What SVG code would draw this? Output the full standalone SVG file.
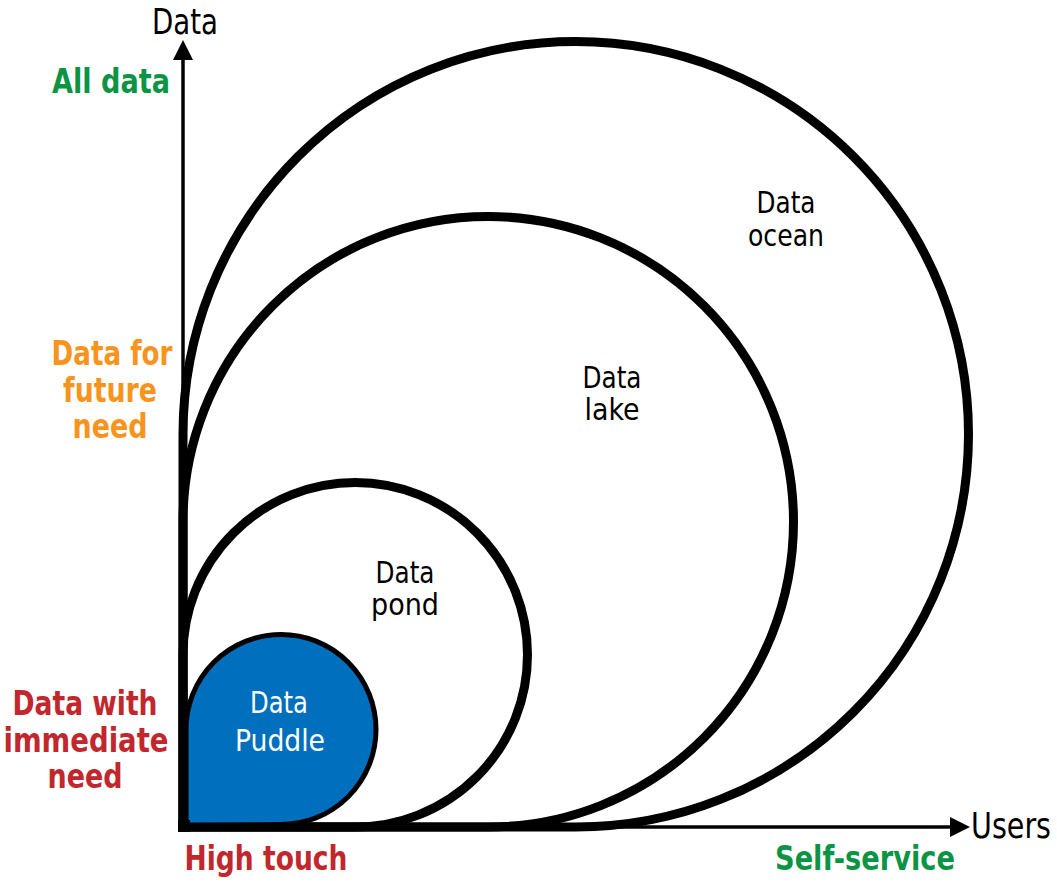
<svg xmlns="http://www.w3.org/2000/svg" width="1057" height="882" viewBox="0 0 1057 882">
<style>
  text { font-family: "DejaVu Sans Condensed", "DejaVu Sans", "Liberation Sans", sans-serif; }
  .ax { font-size: 35px; fill: #000; }
  .lbl { font-size: 30px; fill: #000; text-anchor: middle; }
  .wht { fill: #fff; }
  .side { font-size: 34px; font-weight: bold; text-anchor: middle; }
  .green { fill: #0b9444; }
  .orange { fill: #f7941d; }
  .red { fill: #c1272d; }
  .ring { fill: none; stroke: #000; stroke-width: 9; stroke-linejoin: miter; }
  .axis { stroke: #000; stroke-width: 3.5; fill: none; }
</style>
<defs>
  <marker id="arr" viewBox="0 0 20 20" refX="0" refY="10" markerWidth="20" markerHeight="20" markerUnits="userSpaceOnUse" orient="auto">
    <path d="M0,0 L20,10 L0,20 Z" fill="#000"/>
  </marker>
</defs>
<rect width="1057" height="882" fill="#fff"/>
<g id="ocean">
  <path class="ring" d="M183,827 L183,434.25 A392.75,392.75 0 1 1 575.75,827 Z"/>
  <text class="lbl" x="786" y="213" textLength="59" lengthAdjust="spacingAndGlyphs">Data</text>
  <text class="lbl" x="786" y="246" textLength="76" lengthAdjust="spacingAndGlyphs">ocean</text>
</g>
<g id="lake">
  <path class="ring" d="M183,827 L183,521.75 A305.25,305.25 0 1 1 488.25,827 Z"/>
  <text class="lbl" x="612" y="388" textLength="59" lengthAdjust="spacingAndGlyphs">Data</text>
  <text class="lbl" x="612" y="420" textLength="55" lengthAdjust="spacingAndGlyphs">lake</text>
</g>
<g id="pond">
  <path class="ring" d="M183,827 L183,654.75 A172.25,172.25 0 1 1 355.25,827 Z"/>
  <text class="lbl" x="405" y="583" textLength="59" lengthAdjust="spacingAndGlyphs">Data</text>
  <text class="lbl" x="405" y="615" textLength="68" lengthAdjust="spacingAndGlyphs">pond</text>
</g>
<g id="puddle">
  <path d="M186,825 L186,729.5 A95,95 0 1 1 281,824.5 Z" fill="#006fbd" stroke="#000" stroke-width="5"/>
  <text class="lbl wht" x="279" y="713" textLength="58" lengthAdjust="spacingAndGlyphs">Data</text>
  <text class="lbl wht" x="280" y="751" textLength="90" lengthAdjust="spacingAndGlyphs">Puddle</text>
</g>
<g id="connectors">
  <line class="axis" x1="183" y1="830" x2="183" y2="60" marker-end="url(#arr)"/>
  <line class="axis" x1="181" y1="827" x2="950" y2="827" marker-end="url(#arr)"/>
  <rect x="178" y="820" width="12" height="12" fill="#000"/>
</g>
<g id="axis-labels">
  <text class="ax" x="152" y="34" textLength="66" lengthAdjust="spacingAndGlyphs">Data</text>
  <text class="ax" x="971" y="838" textLength="80" lengthAdjust="spacingAndGlyphs">Users</text>
  <text class="side green" x="111" y="93" textLength="118" lengthAdjust="spacingAndGlyphs">All data</text>
  <text class="side orange" x="112" y="365" textLength="121" lengthAdjust="spacingAndGlyphs">Data for</text>
  <text class="side orange" x="110" y="402" textLength="94" lengthAdjust="spacingAndGlyphs">future</text>
  <text class="side orange" x="110" y="438" textLength="75" lengthAdjust="spacingAndGlyphs">need</text>
  <text class="side red" x="85" y="715" textLength="145" lengthAdjust="spacingAndGlyphs">Data with</text>
  <text class="side red" x="86" y="752" textLength="165" lengthAdjust="spacingAndGlyphs">immediate</text>
  <text class="side red" x="85" y="788" textLength="75" lengthAdjust="spacingAndGlyphs">need</text>
  <text class="side red" x="266" y="870" textLength="163" lengthAdjust="spacingAndGlyphs">High touch</text>
  <text class="side green" x="865" y="870" textLength="180" lengthAdjust="spacingAndGlyphs">Self-service</text>
</g>
</svg>
